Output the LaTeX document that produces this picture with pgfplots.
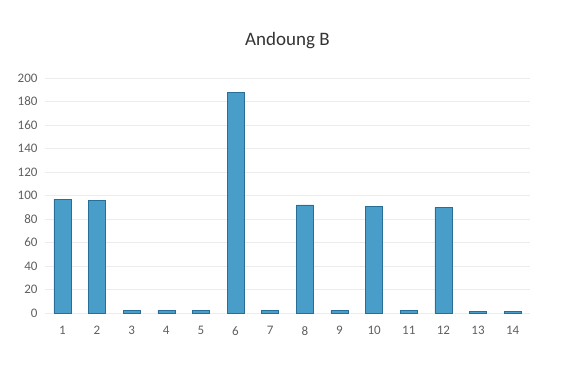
\documentclass[border=0pt]{standalone}
\usepackage{pgfplots}
\pgfplotsset{compat=1.18}
\usepackage{fontspec}
\setmainfont{Carlito}
\definecolor{barblue}{RGB}{72,158,201}
\definecolor{bardark}{RGB}{40,110,150}
\definecolor{ticktext}{RGB}{95,95,95}

\begin{document}
\begin{tikzpicture}
    \begin{axis}[
        scale only axis,
        width=485pt,
        height=235pt,
        xmin=0.5, xmax=14.5,
        ymin=0, ymax=200,
        xtick=data,
        ytick={0,20,...,200},
        ymajorgrids,
        grid style={draw=gray!15},
        axis line style={draw=none},
        major tick length=0pt,
        tick label style={font=\fontsize{13}{15}\selectfont, text=ticktext},
        /pgf/number format/assume math mode=true,
        yticklabel style={xshift=-4pt},
        xticklabel style={yshift=-10pt},
        title={Andoung B},
        title style={font=\fontsize{19}{22}\selectfont, text=black!80, yshift=20pt},
        clip=false,
    ]
    \coordinate (ll) at (rel axis cs:0,0);
    \coordinate (ur) at (rel axis cs:1,1);

    \addplot[ybar, bar width=17pt, fill=barblue, draw=bardark, line width=0.5pt] coordinates {
        (1,97) (2,96) (3,2) (4,2) (5,2) (6,188) (7,2)
        (8,92) (9,2) (10,91) (11,2) (12,90) (13,1.5) (14,1.5)
    };
    \end{axis}
    \path ([xshift=-45pt,yshift=-59pt]ll) rectangle ([xshift=36pt,yshift=78pt]ur);
\end{tikzpicture}
\end{document}
